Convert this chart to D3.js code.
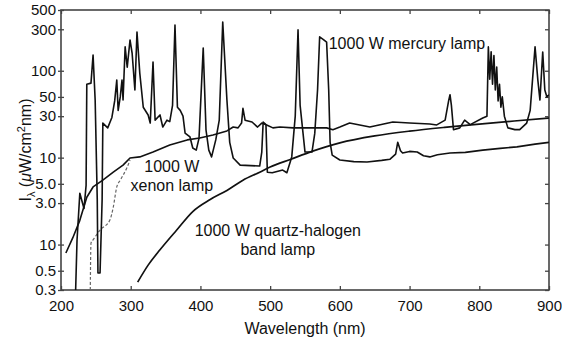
<!DOCTYPE html>
<html><head><meta charset="utf-8">
<script src="https://cdn.jsdelivr.net/npm/d3@7"></script>
<style>
body{margin:0;background:#fff}
svg{display:block}
text{font-family:"Liberation Sans", Arial, Helvetica, sans-serif; fill:#111}
</style>
</head><body><svg id="c" width="562" height="341"></svg>
<script>
// ---- data ----
const xTicks = [200,300,400,500,600,700,800,900];
const yTicks = [500,300,100,50,30,10,5,3,1,0.5,0.3];
const yTickLabels = ["500","300","100","50","30","10","5.0","3.0","10","0.5","0.3"];

// wavelength (nm), irradiance (uW/cm2 nm)
const mercury = [
 [221,0.3],[223,1.13],[227,3.9],[233,2.6],[236,4.8],[237,70],[243,72],[246,152],[249,46],[252,3.3],[253,0.47],
 [256,0.47],[259,3.3],[260,25],[267,22],[273,29],[277,45],[280,78],[282,35],[285,50],[287.5,78],[289,46],
 [292,188],[295,110],[299,226],[302,160],[306,60],[309,279],[313,94],[318,38],[325,31],[328,25],[332,126],
 [335,27],[342,31],[346,22.5],[352,27],[356,26],[360,40],[363.5,336],[367,38],[371,35],[375,30],[378,19.2],
 [385,17.3],[389,12.9],[394,12.2],[398,16.8],[404,183],[408,20.8],[412,12.2],[416,10.2],[422,16],[427,27],
 [432,364],[438,46],[442,15],[447,9.9],[457,8.2],[485,8],[488,11.6],[490,25.7],[494,24],[496,6.8],[503,6.7],
 [518,7.2],[524,6.7],[531,10.2],[536,30],[540,295],[543,40],[550,11.6],[560,11.6],[564,19],[568,60],
 [571,245],[576,230],[581,214],[584,60],[586,15],[589,10.7],[600,9.4],[620,9],[639,8.9],[660,9.3],[672,9.6],
 [680,11],[683,15],[687,12],[690,11.3],[700,11.8],[711,11.6],[720,10.5],[729,10.2],[740,10.8],[758,11.3],
 [780,11.5],[805,12.2],[830,12.8],[854,13.3],[880,14.3],[900,15]
];
const xenon = [
 [207,0.8],[217,1.2],[227,1.9],[237,3.5],[246,4.6],[260,5.5],[275,6.8],[289,8.2],[299,9.9],[313,10.2],
 [332,11.6],[356,14],[381,16],[399,16.8],[418,18.2],[438,20.3],[447,22.5],[454,22],[459,25],[461,37],
 [464,27],[474,25.7],[482,22.5],[488,25],[495,23.8],[504,22],[514,22.5],[533,22],[561,22],[581,22],[590,21],
 [600,22.5],[614,25],[643,22.5],[676,25.7],[700,25],[729,24.4],[739,23.8],[751,27],[756,45],[758,53],
 [760,40],[763,21],[772,22],[779,27],[787,24],[805,28.6],[811,30],[813,188],[815,80],[817,165],[819,70],
 [821,150],[823,60],[825,110],[827,45],[829,70],[831,38],[833,50],[836,30],[841,22],[851,21],[858,21],
 [868,25],[873,35],[880,188],[884,78],[887,46],[891,164],[894,60],[897,50],[900,53]
];
const xenonDashed = [
 [242,0.3],[243,1.04],[246,1.13],[256,1.47],[270,1.9],[275,2.7],[280,4.6],[285,5.5],[295,7.8],[299,9.4]
];
const halogen = [
 [310,0.37],[325,0.58],[342,0.87],[366,1.47],[389,2.4],[414,3.3],[438,4.2],[461,5.5],[485,6.8],[500,7.8],
 [530,9.6],[560,11.8],[600,14.8],[650,17.8],[700,20.2],[750,22.3],[800,24.3],[850,26.4],[900,28.6]
];
const mercuryLabel = ["1000 W mercury lamp"];
const xenonLabel = ["1000 W","xenon lamp"];
const halogenLabel = ["1000 W quartz-halogen","band lamp"];
const xTitle = "Wavelength (nm)";

// ---- layout ----
const W = 562, H = 341;
const m = {l:61, r:13, t:10, b:51};
const svg = d3.select("#c");
const x = d3.scaleLinear().domain([200,900]).range([m.l, W-m.r]);
const y = d3.scaleLog().domain([0.3,500]).range([H-m.b, m.t]);

svg.append("defs").append("clipPath").attr("id","clip")
  .append("rect").attr("x",m.l).attr("y",m.t).attr("width",W-m.r-m.l).attr("height",H-m.b-m.t);

const fmtY = d => yTickLabels[yTicks.indexOf(d)];
const axisColor = "#444";

function styleAxis(g){
  g.select(".domain").remove();
  g.selectAll(".tick line").attr("stroke",axisColor).attr("stroke-width",1.3);
  g.selectAll("text").attr("font-size",15).attr("fill","#111")
   .attr("font-family",'"Liberation Sans", Arial, sans-serif');
}
// bottom
svg.append("g").attr("transform",`translate(0,${H-m.b})`)
  .call(d3.axisBottom(x).tickValues(xTicks).tickSize(-4).tickPadding(10).tickFormat(d3.format("d")))
  .call(styleAxis);
// top
svg.append("g").attr("transform",`translate(0,${m.t})`)
  .call(d3.axisBottom(x).tickValues(xTicks).tickSize(4).tickFormat(""))
  .call(styleAxis);
// left (labels, outward ticks)
svg.append("g").attr("transform",`translate(${m.l},0)`)
  .call(d3.axisLeft(y).tickValues(yTicks).tickSize(3).tickPadding(2).tickFormat(fmtY))
  .call(styleAxis);
// left inward ticks
svg.append("g").attr("transform",`translate(${m.l},0)`)
  .call(d3.axisRight(y).tickValues(yTicks).tickSize(3).tickFormat(""))
  .call(styleAxis);
// right inward ticks
svg.append("g").attr("transform",`translate(${W-m.r},0)`)
  .call(d3.axisLeft(y).tickValues(yTicks).tickSize(4).tickFormat(""))
  .call(styleAxis);

// frame
svg.append("rect").attr("x",m.l).attr("y",m.t).attr("width",W-m.r-m.l).attr("height",H-m.b-m.t)
  .attr("fill","none").attr("stroke",axisColor).attr("stroke-width",1.6);

// curves
const lineLin = d3.line().x(d=>x(d[0])).y(d=>y(d[1]));
const lineSmooth = d3.line().x(d=>x(d[0])).y(d=>y(d[1])).curve(d3.curveMonotoneX);
const plot = svg.append("g").attr("clip-path","url(#clip)");
plot.append("path").datum(halogen).attr("d",lineSmooth)
  .attr("fill","none").attr("stroke","#111").attr("stroke-width",1.7);
plot.append("path").datum(xenonDashed).attr("d",lineSmooth)
  .attr("fill","none").attr("stroke","#666").attr("stroke-width",1.2).attr("stroke-dasharray","3,2");
plot.append("path").datum(xenon).attr("d",lineLin)
  .attr("fill","none").attr("stroke","#111").attr("stroke-width",1.6).attr("stroke-linejoin","round");
plot.append("path").datum(mercury).attr("d",lineLin)
  .attr("fill","none").attr("stroke","#111").attr("stroke-width",1.6).attr("stroke-linejoin","round");

// labels
const fs = 16;
svg.append("text").attr("x",x(584)).attr("y",y(180)).attr("font-size",fs).text(mercuryLabel[0]);
xenonLabel.forEach((t,i)=>{
  svg.append("text").attr("x",x(359)).attr("y",y([6.8,4.1][i])).attr("font-size",fs)
    .attr("text-anchor","middle").text(t);
});
halogenLabel.forEach((t,i)=>{
  svg.append("text").attr("x",x(511)).attr("y",y([1.24,0.75][i])).attr("font-size",fs)
    .attr("text-anchor","middle").text(t);
});

// axis titles
svg.append("text").attr("x",(m.l+W-m.r)/2).attr("y",334).attr("text-anchor","middle")
  .attr("font-size",16).text(xTitle);

const yt = svg.append("text").attr("transform",`translate(31,${(m.t+H-m.b)/2}) rotate(-90)`)
  .attr("text-anchor","middle").attr("font-size",16);
yt.append("tspan").text("I");
yt.append("tspan").attr("font-size",11).attr("dy",4).text("λ");
yt.append("tspan").attr("dy",-4).text(" (");
yt.append("tspan").attr("font-style","italic").text("μ");
yt.append("tspan").text("W/cm");
yt.append("tspan").attr("font-size",11).attr("dy",-6).text("2");
yt.append("tspan").attr("dy",6).text("nm)");
</script>
</body></html>
